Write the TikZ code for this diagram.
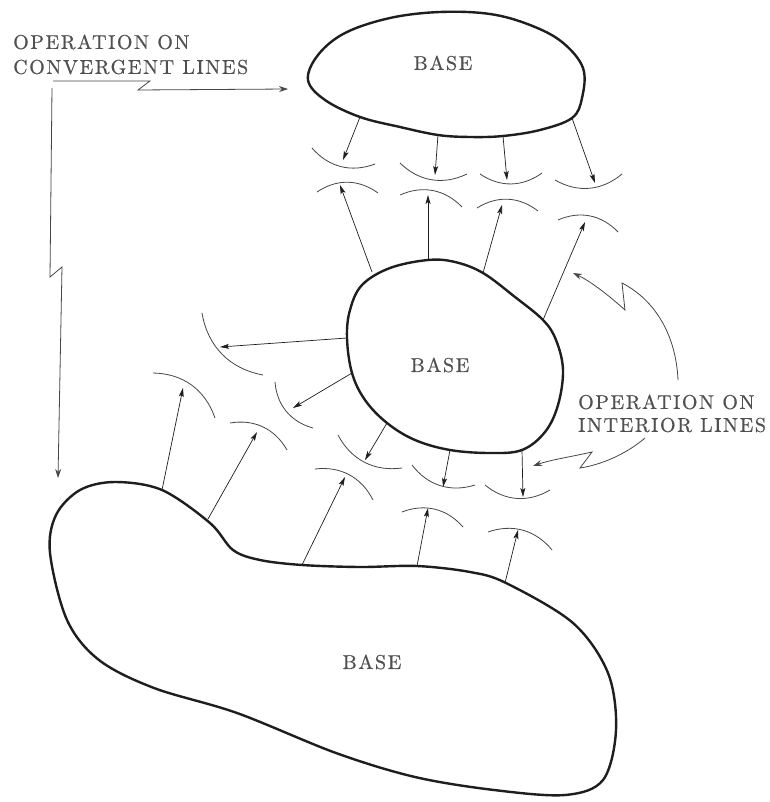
\documentclass[tikz,border=0pt]{standalone}
\usepackage{fontspec}
\usetikzlibrary{arrows.meta}
\newfontfamily\lblfont{lmroman10-regular.otf}[LetterSpace=8,FakeBold=0.6]
\definecolor{inkline}{RGB}{30,30,30}
\definecolor{inktext}{RGB}{80,80,80}
\definecolor{inkarc}{RGB}{70,70,70}
\tikzset{
  basebox/.style={draw=inkline, line width=2.4pt, line join=round},
  label/.style={inner sep=0pt, text=inktext, font=\lblfont\fontsize{20}{22}\selectfont},
  ray/.style={draw=inkline, line width=0.7pt, -{Stealth[length=9pt,width=5pt,inset=2pt]}},
  front/.style={draw=inkarc, line width=0.8pt},
  pointer/.style={draw=inkarc, line width=0.8pt, -{Stealth[length=9pt,width=6pt,inset=3pt]}}
}
\begin{document}
\begin{tikzpicture}[x=1pt,y=-1pt]
\useasboundingbox[fill=white] (0,0) rectangle (769,802);

% ---- bases ----
\draw[basebox] plot[smooth cycle, tension=0.6] coordinates {
 (308,80) (318,55) (345,33) (390,18) (440,12) (490,14) (530,25) (562,42)
 (583,68) (582,98) (572,118) (540,130) (503,136) (470,137) (438,135)
 (400,127) (360,117) (325,100)};
\node[label] (b1) at (443,63) {BASE};

\draw[basebox] plot[smooth cycle, tension=0.6] coordinates {
 (428,260) (390,268) (362,285) (350,310) (347,338) (352,373) (365,400)
 (387,423) (415,440) (450,450) (490,453) (522,450) (545,432) (558,405)
 (563,370) (556,340) (543,320) (515,297) (483,273) (455,262)};
\node[label] (b2) at (440,365) {BASE};

\draw[basebox] plot[smooth cycle, tension=0.55] coordinates {
 (56,515) (80,490) (115,482) (162,490) (210,523) (233,550) (260,560)
 (302,565) (360,567) (417,566) (470,572) (506,583) (573,623) (608,673)
 (616,730) (603,780) (565,795) (494,790) (415,777) (336,753) (237,713)
 (154,688) (99,660) (67,620) (50,553)};
\node[label] (b3) at (372,662) {BASE};

% ---- rays from top base ----
\coordinate (t1) at (360,117); \coordinate (h1) at (343,160);
\coordinate (t2) at (438,135); \coordinate (h2) at (435,175);
\coordinate (t3) at (503,136); \coordinate (h3) at (507,180);
\coordinate (t4) at (572,118); \coordinate (h4) at (595,183);
\draw[ray] (t1) -- (h1); \draw[ray] (t2) -- (h2);
\draw[ray] (t3) -- (h3); \draw[ray] (t4) -- (h4);
\draw[front] (312,148) to[bend right=35] (375,164);
\draw[front] (400,163) to[bend right=35] (467,174);
\draw[front] (480,174) to[bend right=35] (542,173);
\draw[front] (555,180) to[bend right=35] (622,174);

% ---- rays from middle base upward ----
\coordinate (t5) at (372,272); \coordinate (h5) at (340,185);
\coordinate (t6) at (428,260); \coordinate (h6) at (428,195);
\coordinate (t7) at (483,273); \coordinate (h7) at (502,205);
\coordinate (t8) at (543,320); \coordinate (h8) at (585,222);
\draw[ray] (t5) -- (h5); \draw[ray] (t6) -- (h6);
\draw[ray] (t7) -- (h7); \draw[ray] (t8) -- (h8);
\draw[front] (317,192) to[bend left=35] (378,193);
\draw[front] (400,195) to[bend left=35] (462,207);
\draw[front] (477,208) to[bend left=35] (538,211);
\draw[front] (558,220) to[bend left=35] (618,232);

% ---- rays from middle base to the left and down ----
\coordinate (t9) at (347,338);  \coordinate (h9) at (220,347);
\coordinate (t10) at (352,373); \coordinate (h10) at (293,408);
\coordinate (t11) at (387,423); \coordinate (h11) at (365,460);
\coordinate (t12) at (450,450); \coordinate (h12) at (443,487);
\coordinate (t13) at (522,450); \coordinate (h13) at (523,497);
\draw[ray] (t9) -- (h9); \draw[ray] (t10) -- (h10); \draw[ray] (t11) -- (h11);
\draw[ray] (t12) -- (h12); \draw[ray] (t13) -- (h13);
\draw[front] (202,313) to[bend right=35] (263,375);
\draw[front] (275,382) to[bend right=35] (313,428);
\draw[front] (338,435) to[bend right=35] (402,468);
\draw[front] (412,465) to[bend right=35] (475,485);
\draw[front] (485,485) to[bend right=35] (550,490);

% ---- rays from bottom base ----
\coordinate (t14) at (162,490); \coordinate (h14) at (183,388);
\coordinate (t15) at (208,519); \coordinate (h15) at (257,432);
\coordinate (t16) at (302,565); \coordinate (h16) at (345,477);
\coordinate (t17) at (417,566); \coordinate (h17) at (428,508);
\coordinate (t18) at (505,583); \coordinate (h18) at (518,530);
\draw[ray] (t14) -- (h14); \draw[ray] (t15) -- (h15); \draw[ray] (t16) -- (h16);
\draw[ray] (t17) -- (h17); \draw[ray] (t18) -- (h18);
\draw[front] (153,373) to[bend left=35] (215,418);
\draw[front] (230,423) to[bend left=35] (287,450);
\draw[front] (315,469) to[bend left=35] (373,500);
\draw[front] (402,512) to[bend left=35] (463,527);
\draw[front] (488,532) to[bend left=35] (552,550);

% ---- convergent lines annotation ----
\node[label, anchor=west] (cv1) at (13,42) {OPERATION ON};
\node[label, anchor=west] (cv2) at (13,67) {CONVERGENT LINES};
\coordinate (c0) at (53,81); \coordinate (c1) at (150,81);
\coordinate (c2) at (138,90); \coordinate (ctip) at (288,89);
\draw[pointer] (c0) -- (c1) -- (c2) -- (ctip);
\coordinate (v0) at (52,88); \coordinate (v1) at (50,277);
\coordinate (v2) at (62,267); \coordinate (vtip) at (58,478);
\draw[pointer] (v0) -- (v1) -- (v2) -- (vtip);

% ---- interior lines annotation ----
\node[label, anchor=west] (in1) at (578,402) {OPERATION ON};
\node[label, anchor=west] (in2) at (578,425) {INTERIOR LINES};
\coordinate (u0) at (678,380); \coordinate (u1) at (622,283);
\coordinate (u2) at (625,310); \coordinate (utip) at (573,273);
\draw[pointer] (u0) .. controls (676,335) and (655,300) .. (u1) -- (u2)
  .. controls (605,292) and (588,280) .. (utip);
\coordinate (l0) at (645,438); \coordinate (l1) at (580,468);
\coordinate (l2) at (592,452); \coordinate (ltip) at (533,466);
\draw[pointer] (l0) .. controls (625,455) and (600,465) .. (l1) -- (l2)
  .. controls (570,457) and (550,460) .. (ltip);
\end{tikzpicture}
\end{document}
